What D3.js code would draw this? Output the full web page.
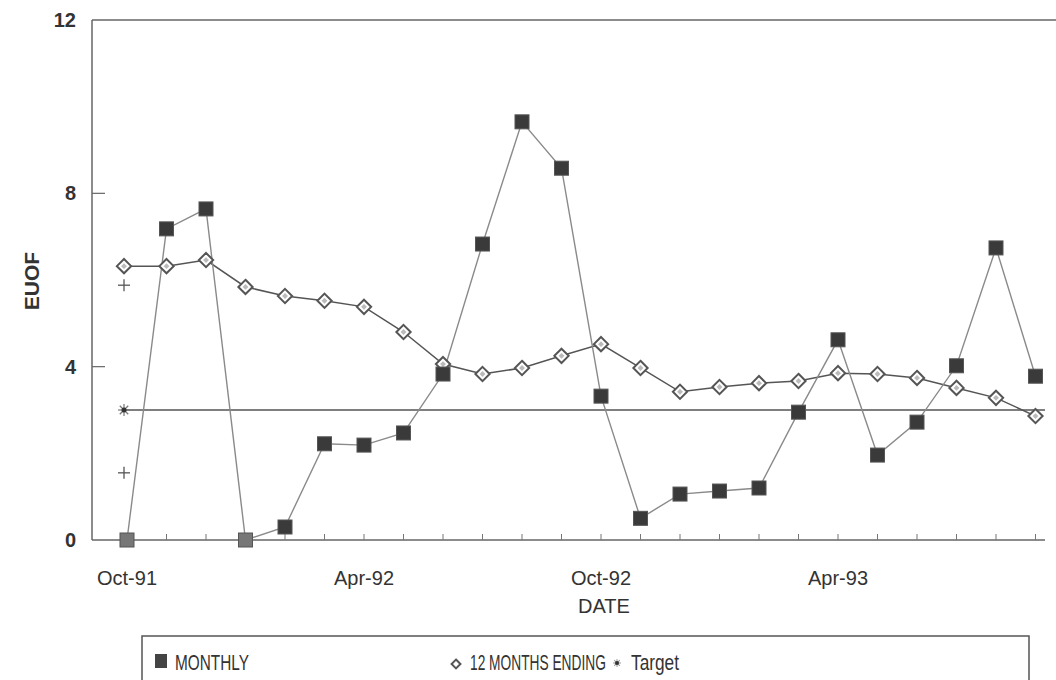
<!DOCTYPE html>
<html><head><meta charset="utf-8">
<script src="https://cdn.jsdelivr.net/npm/d3@7"></script>
<style>body{margin:0;background:#fff}svg{display:block}text{font-family:"Liberation Sans",Arial,sans-serif;fill:#333}</style>
</head><body><svg id="c" width="1056" height="680"></svg>
<script>
const months = ["Oct-91","Nov-91","Dec-91","Jan-92","Feb-92","Mar-92","Apr-92","May-92","Jun-92","Jul-92","Aug-92","Sep-92","Oct-92","Nov-92","Dec-92","Jan-93","Feb-93","Mar-93","Apr-93","May-93","Jun-93","Jul-93","Aug-93","Sep-93"];
const monthly = [0,7.18,7.64,0,0.3,2.22,2.19,2.47,3.83,6.83,9.65,8.58,3.32,0.5,1.06,1.13,1.2,2.95,4.62,1.96,2.72,4.02,6.74,3.78];
const twelveMonths = [6.32,6.32,6.46,5.84,5.63,5.52,5.38,4.8,4.06,3.83,3.97,4.25,4.52,3.97,3.42,3.53,3.62,3.67,3.85,3.83,3.74,3.51,3.28,2.86];
const target = 3.0;
const plusMarks = [5.88,1.55];
const xLabels = ["Oct-91","Apr-92","Oct-92","Apr-93"];
const yTicks = [0,4,8,12];
const legendLabels = ["MONTHLY","12 MONTHS ENDING","Target"];

const svg = d3.select("#c");
const x = d3.scaleLinear().domain([0,23]).range([127,1035.5]);
const y = d3.scaleLinear().domain([0,12]).range([540,20]);
const xi = m => months.indexOf(m);

// frame
svg.append("line").attr("x1",92).attr("x2",92).attr("y1",20).attr("y2",540).attr("stroke","#666").attr("stroke-width",1.5);
svg.append("line").attr("x1",92).attr("x2",1056).attr("y1",20).attr("y2",20).attr("stroke","#666").attr("stroke-width",1.5);
svg.append("line").attr("x1",92).attr("x2",1045).attr("y1",540).attr("y2",540).attr("stroke","#666").attr("stroke-width",1.5);

// y ticks
const yg = svg.append("g");
yTicks.forEach(t=>{
  if(t>0 && t<12) yg.append("line").attr("x1",92).attr("x2",105).attr("y1",y(t)).attr("y2",y(t)).attr("stroke","#666").attr("stroke-width",1.2);
  yg.append("text").attr("x",76).attr("y",y(t)+7).attr("text-anchor","end").attr("font-size",20).attr("font-weight","bold").text(t);
});
// x ticks (month)
months.forEach((m,i)=>{ if(i>0) svg.append("line").attr("x1",x(i)).attr("x2",x(i)).attr("y1",540).attr("y2",534).attr("stroke","#777").attr("stroke-width",1); });
xLabels.forEach(l=>{
  svg.append("text").attr("x",x(xi(l))).attr("y",585).attr("text-anchor","middle").attr("font-size",20).text(l);
});
svg.append("text").attr("x",604).attr("y",613).attr("text-anchor","middle").attr("font-size",20).text("DATE");
svg.append("text").attr("transform","translate(39,281) rotate(-90)").attr("text-anchor","middle").attr("font-size",21).attr("font-weight","bold").text("EUOF");

// target line
svg.append("line").attr("x1",x(0)-3).attr("x2",1045).attr("y1",y(target)).attr("y2",y(target)).attr("stroke","#555").attr("stroke-width",1.6);
const ast = svg.append("g").attr("transform",`translate(${x(0)-3},${y(target)})`);
[0,45,90,135].forEach(a=>ast.append("line").attr("x1",-6).attr("x2",6).attr("transform",`rotate(${a})`).attr("stroke","#777").attr("stroke-width",1.2));
ast.append("circle").attr("r",2.5).attr("fill","#333");

// plus marks
plusMarks.forEach(v=>{
  const g = svg.append("g").attr("transform",`translate(${x(0)-3},${y(v)})`);
  g.append("line").attr("x1",-6).attr("x2",6).attr("stroke","#555").attr("stroke-width",1.3);
  g.append("line").attr("y1",-6).attr("y2",6).attr("stroke","#555").attr("stroke-width",1.3);
});

// 12 months line
const line12 = d3.line().x((d,i)=>x(i)-(i===0?3:0)).y(d=>y(d));
svg.append("path").datum(twelveMonths).attr("d",line12).attr("fill","none").attr("stroke","#555").attr("stroke-width",1.5);

// monthly line
const lineM = d3.line().x((d,i)=>x(i)).y(d=>y(d));
svg.append("path").datum(monthly).attr("d",lineM).attr("fill","none").attr("stroke","#8a8a8a").attr("stroke-width",1.4);

// diamonds
svg.selectAll(".dm").data(twelveMonths).join("path").attr("class","dm")
  .attr("d",d3.symbol(d3.symbolDiamond2,130)())
  .attr("transform",(d,i)=>`translate(${x(i)-(i===0?3:0)},${y(d)})`)
  .attr("fill","#fff").attr("stroke","#555").attr("stroke-width",2);
svg.selectAll(".dm2").data(twelveMonths).join("path").attr("class","dm2")
  .attr("d",d3.symbol(d3.symbolDiamond2,22)())
  .attr("transform",(d,i)=>`translate(${x(i)-(i===0?3:0)},${y(d)})`)
  .attr("fill","#bbb");

// squares
svg.selectAll(".sq").data(monthly).join("rect").attr("class","sq")
  .attr("x",(d,i)=>x(i)-7).attr("y",d=>y(d)-7).attr("width",14).attr("height",14)
  .attr("fill",(d,i)=>d===0?"#777":"#3a3a3a").attr("stroke","#555").attr("stroke-width",1);

// legend
svg.append("path").attr("d","M142,680 V636 H1029 V680").attr("fill","none").attr("stroke","#555").attr("stroke-width",1.5);
function condensed(label, x0, w){
  const t = svg.append("text").attr("font-size",22).text(label);
  const nat = t.node().getComputedTextLength();
  t.attr("transform",`translate(${x0},670) scale(${w/nat},1)`);
}
svg.append("rect").attr("x",155).attr("y",654).attr("width",12).attr("height",14).attr("fill","#444");
condensed(legendLabels[0],175,74);
svg.append("path").attr("d",d3.symbol(d3.symbolDiamond2,50)()).attr("transform","translate(456,664)").attr("fill","#fff").attr("stroke","#555").attr("stroke-width",2);
condensed(legendLabels[1],470,136);
const la = svg.append("g").attr("transform","translate(617,663)");
[0,45,90,135].forEach(a=>la.append("line").attr("x1",-4).attr("x2",4).attr("transform",`rotate(${a})`).attr("stroke","#999").attr("stroke-width",1));
la.append("circle").attr("r",2).attr("fill","#333");
condensed(legendLabels[2],631,48);
</script></body></html>
